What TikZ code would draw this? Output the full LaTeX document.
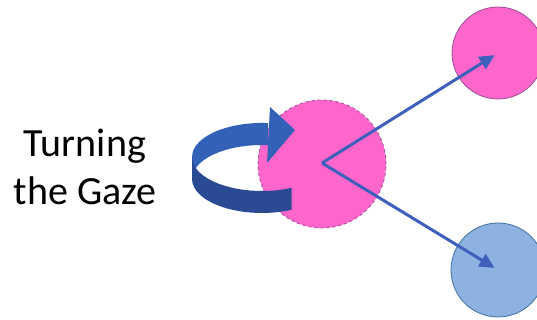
\documentclass[tikz,border=0pt]{standalone}
\usepackage{fontspec}
\setmainfont{Carlito}
\definecolor{gazepink}{HTML}{FF66CC}
\definecolor{gazerim}{HTML}{9A4F96}
\definecolor{gazeblue}{HTML}{8DB1E0}
\definecolor{bluerim}{HTML}{41719C}
\definecolor{rayblue}{HTML}{3E60BC}
\definecolor{bandlight}{HTML}{3461B8}
\definecolor{banddark}{HTML}{2A4A94}
\usetikzlibrary{arrows.meta}

\begin{document}
\begin{tikzpicture}[x=1pt, y=1pt, every node/.style={font=\fontsize{40}{48}\selectfont}]
        \tikzset{spot/.style={circle, inner sep=0pt, line width=0.8pt},
                 ray/.style={-{Triangle[length=15pt, width=14pt]}, line width=3pt,
                 rayblue, shorten >=4pt}}
        \useasboundingbox (0,0) rectangle (537,320);

        % the two lines of text
        \node[anchor=base] (turning) at (85,163) {Turning};
        \node[anchor=base] (gaze)    at (85,115) {the Gaze};

        % the three spots
        \node[spot, draw=gazerim, dashed, fill=gazepink, minimum size=128pt] (self)  at (322,156) {};
        \node[spot, draw=gazerim, fill=gazepink, minimum size=92pt]          (upper) at (498,267) {};
        \node[spot, draw=bluerim, fill=gazeblue, minimum size=94pt]          (lower) at (498,50)  {};

        % turning band, back half then front half
        \fill[bandlight] (268.1,196.9) arc[start angle=85, end angle=180, x radius=70, y radius=34]
          -- (192,141) arc[start angle=180, end angle=85, x radius=70, y radius=34] -- cycle;
        \fill[banddark] (192,163) arc[start angle=180, end angle=295, x radius=70, y radius=34]
          -- (291.6,110.2) arc[start angle=295, end angle=180, x radius=70, y radius=34] -- cycle;
        \fill[bandlight] (270,213) -- (295,190) -- (267,157) -- cycle;

        \coordinate (eye) at (322,157);
        \draw[ray] (eye) -- (upper.center);
        \draw[ray] (eye) -- (lower.center);
      \end{tikzpicture}
\end{document}
